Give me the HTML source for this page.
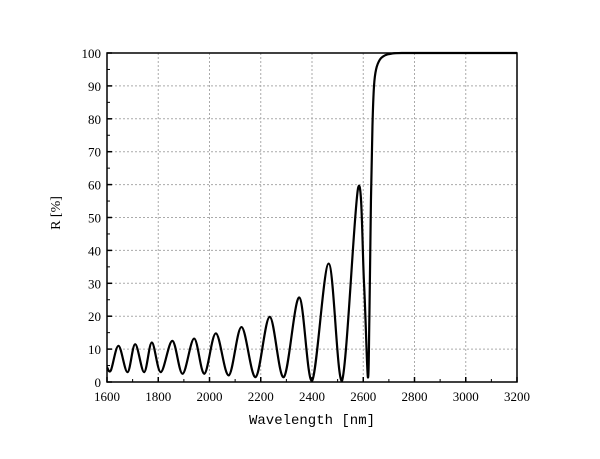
<!DOCTYPE html>
<html><head><meta charset="utf-8"><style>
body{margin:0;background:#fff;}
svg{display:block;}
text{font-family:"Liberation Serif","Noto Serif CJK SC",serif;fill:#000;}
</style></head><body>
<svg id="chart" width="600" height="459" xmlns="http://www.w3.org/2000/svg">
<g id="grid"></g>
<g id="ticks"></g>
<path id="curve" fill="none" stroke="#000" stroke-width="2.2" stroke-linejoin="round"></path>
<rect x="107" y="53" width="410" height="329" fill="none" stroke="#000" stroke-width="1.5"></rect>
<text transform="translate(60,213) rotate(-90)" text-anchor="middle" font-size="14">R [%]</text>
<text x="312" y="424" text-anchor="middle" font-size="14" style="font-family:'Liberation Mono',monospace">Wavelength [nm]</text>
</svg>
<script>
const xTicks=[1600,1800,2000,2200,2400,2600,2800,3000,3200];
const yTicks=[0,10,20,30,40,50,60,70,80,90,100];
const wavelength=[1600,1615,1645,1680,1710,1745,1775,1810,1855,1895,1940,1980,2025,2075,2125,2180,2235,2290,2350,2400,2465,2517,2580,2603,2618,2624,2630,2636,2642,2650,2665,2685,2710,2750,2900,3200];
const reflectance=[4.5,3.5,11,3,11.5,3,12,3,12.5,2.5,13.2,2.5,14.8,2,16.7,1.5,19.8,1.5,25.7,0.3,36,0.3,59,30,1.5,20,55,78,90,95,98,99.3,99.8,100,100,100];
const X0=107,X1=517,Y0=382,Y1=53;
function sx(v){return X0+(v-1600)/(3200-1600)*(X1-X0);}
function sy(v){return Y0-(v/100)*(Y0-Y1);}
const NS="http://www.w3.org/2000/svg";
const grid=document.getElementById('grid'),ticks=document.getElementById('ticks');
function mk(tag,attrs,parent){const e=document.createElementNS(NS,tag);for(const k in attrs)e.setAttribute(k,attrs[k]);parent.appendChild(e);return e;}
xTicks.forEach(v=>{const x=sx(v);
 if(v>1600&&v<3200){const l=mk('line',{x1:x,x2:x,y1:Y1,y2:Y0,stroke:'#aaa','stroke-dasharray':'2,2'},grid);
 
 }
 const t=mk('line',{x1:x,x2:x,y1:Y0,y2:Y0-5,stroke:'#000','stroke-width':1.5},ticks);
 
 
 if(v<3200){const m=mk('line',{x1:sx(v+100),x2:sx(v+100),y1:Y0,y2:Y0-3,stroke:'#000'},ticks);
 
 }
 const tx=mk('text',{x:x,y:401,'text-anchor':'middle','font-size':13},ticks);tx.textContent=v;
 
 
});
yTicks.forEach(v=>{const y=sy(v);
 if(v>0&&v<100){const l=mk('line',{x1:X0,x2:X1,y1:y,y2:y,stroke:'#aaa','stroke-dasharray':'2,2'},grid);
 
 }
 const t=mk('line',{x1:X0,x2:X0+5,y1:y,y2:y,stroke:'#000','stroke-width':1.5},ticks);
 
 
 if(v<100){const m=mk('line',{x1:X0,x2:X0+3,y1:sy(v+5),y2:sy(v+5),stroke:'#000'},ticks);
 
 }
 const tx=mk('text',{x:101,y:y+5,'text-anchor':'end','font-size':13},ticks);tx.textContent=v;
 
 
});
const P=wavelength.map((w,i)=>[sx(w),sy(reflectance[i])]);
let d='M'+P[0][0]+','+P[0][1];
for(let i=0;i<P.length-1;i++){const p0=P[Math.max(0,i-1)],p1=P[i],p2=P[i+1],p3=P[Math.min(P.length-1,i+2)];
 const c1=[p1[0]+(p2[0]-p0[0])/6,p1[1]+(p2[1]-p0[1])/6],c2=[p2[0]-(p3[0]-p1[0])/6,p2[1]-(p3[1]-p1[1])/6];
 const cl=y=>Math.max(Y1,Math.min(Y0,y));
 d+=' C'+c1[0]+','+cl(c1[1])+' '+c2[0]+','+cl(c2[1])+' '+p2[0]+','+p2[1];}
document.getElementById('curve').setAttribute('d',d);
</script>
</body></html>
